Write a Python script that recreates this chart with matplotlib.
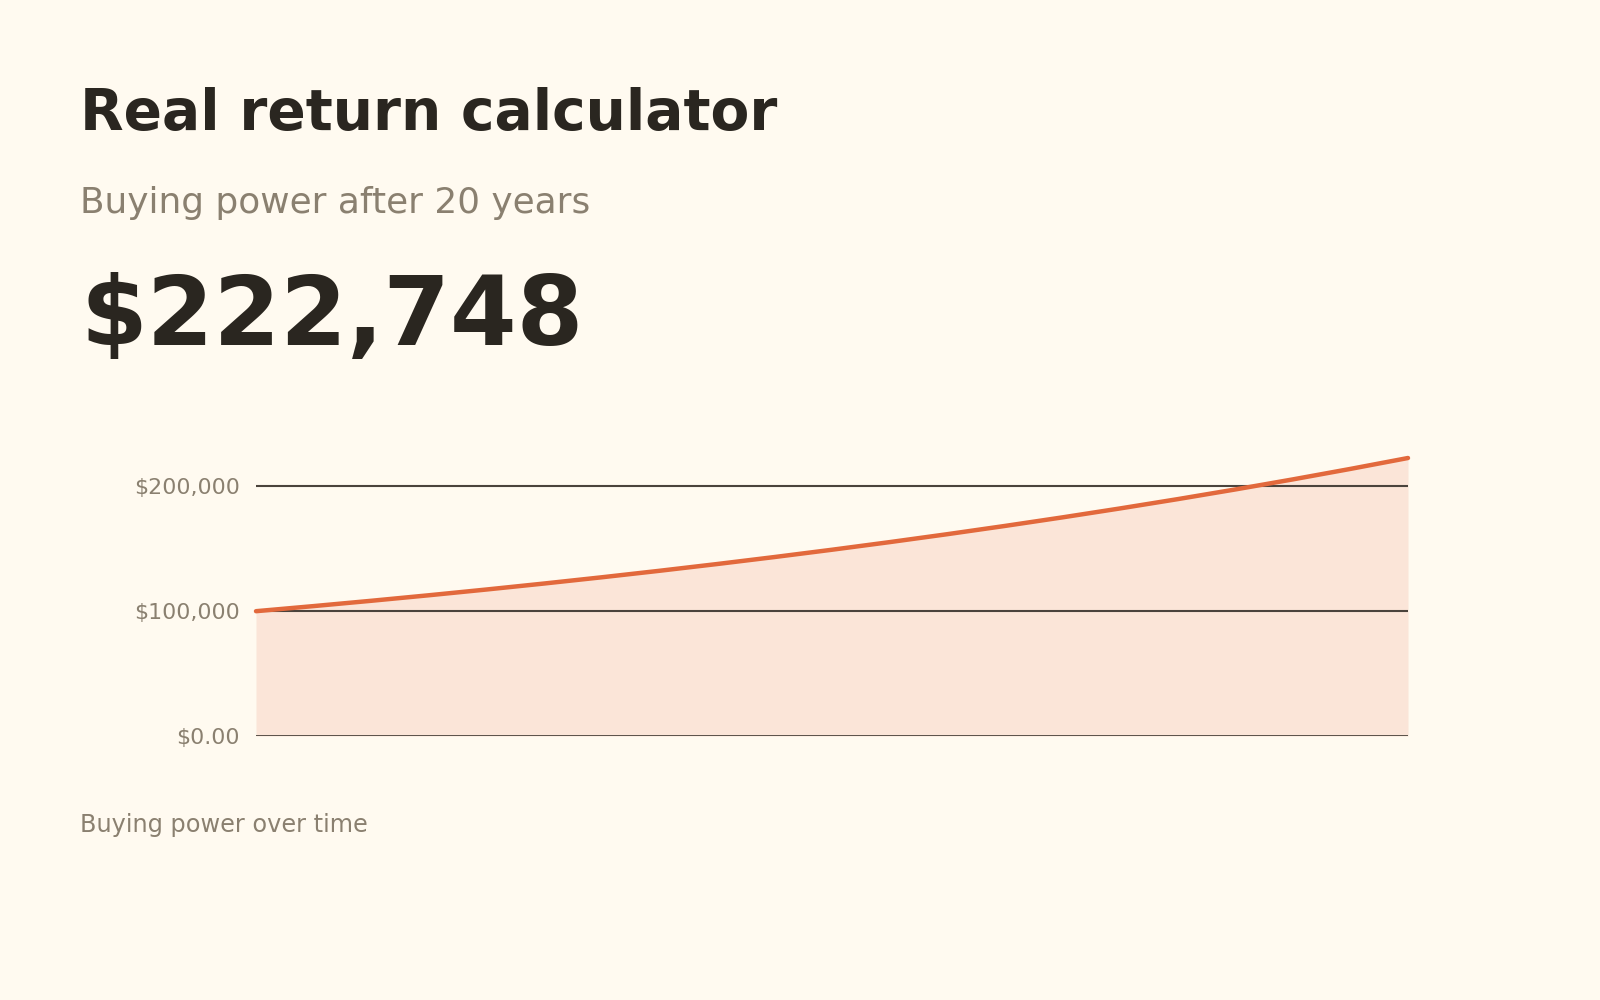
import matplotlib
matplotlib.use("Agg")
import matplotlib.pyplot as plt
from matplotlib.ticker import FuncFormatter

# buying power per year (ends at the headline figure)
years = list(range(21))
buying_power = [100000, 104086, 108338, 112764, 117371, 122166, 127157,
                132352, 137760, 143388, 149246, 155344, 161691, 168297,
                175173, 182330, 189779, 197533, 205604, 214004, 222748]
yticks = [0, 100000, 200000]

title = "Real return calculator"
subtitle = "Buying power after 20 years"
headline = "$222,748"
footer = "Buying power over time"

bg = "#FFFAF0"
dark = "#2A2620"
muted = "#8A8070"
orange = "#E2693C"
fill = "#FBE5D8"
grid = "#4A433C"


def fmt(v, pos):
    if v == 0:
        return "$0.00"
    return "${:,.0f}".format(v)


def main():
    fig = plt.figure(figsize=(16, 10), dpi=100, facecolor=bg)

    fig.text(0.05, 0.87, title, fontsize=40.8, fontweight="bold", color=dark)
    fig.text(0.05, 0.787, subtitle, fontsize=25.8, color=muted)
    fig.text(0.05, 0.655, headline, fontsize=69, fontweight="bold", color=dark)
    fig.text(0.05, 0.168, footer, fontsize=17.3, color=muted)

    ax = fig.add_axes([0.16, 0.264, 0.72, 0.278])
    ax.set_facecolor(bg)
    ax.fill_between(years, buying_power, 0, color=fill, lw=0, zorder=1)
    for t in yticks:
        ax.axhline(t, color=dark if t == 0 else grid, lw=1.8 if t == 0 else 1.5, zorder=2)
    ax.plot(years, buying_power, color=orange, lw=3.2, solid_capstyle="round",
            zorder=3, clip_on=False)

    ax.set_xlim(years[0], years[-1])
    ax.set_ylim(0, max(buying_power))
    ax.set_yticks(yticks)
    ax.yaxis.set_major_formatter(FuncFormatter(fmt))
    ax.set_xticks([])
    ax.tick_params(axis="y", length=0, pad=11.5, labelsize=15.9, labelcolor=muted)
    for s in ax.spines.values():
        s.set_visible(False)

    fig.savefig("out.png", dpi=100, facecolor=bg)


if __name__ == "__main__":
    main()
